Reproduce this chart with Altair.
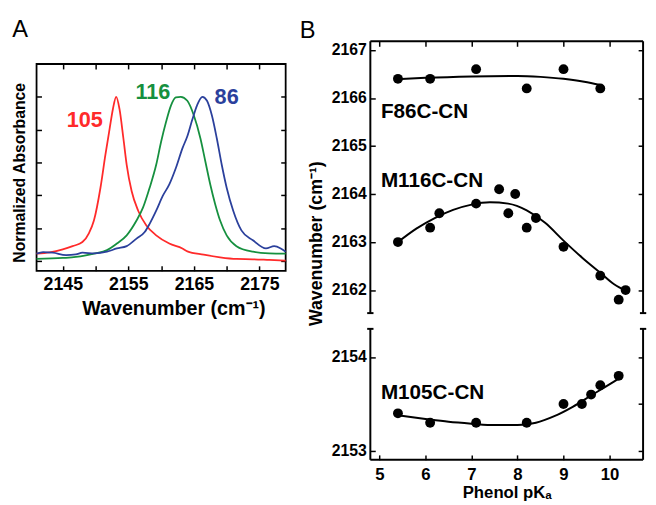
import altair as alt
import pandas as pd

FONT = "Liberation Sans"

# ---------------- Panel A: normalized IR spectra ----------------
wn_105 = [2141, 2143, 2145, 2146.5, 2148, 2149, 2149.75, 2150.75, 2151.5, 2152.15, 2152.65,
          2153.15, 2153.65, 2154.25, 2154.75, 2155.5, 2156.5, 2157.75, 2159.25, 2161.25,
          2163.25, 2164.0, 2166.5, 2169, 2171.5, 2174, 2176.5, 2179]
abs_105 = [0.044, 0.052, 0.07, 0.09, 0.115, 0.17, 0.246, 0.446, 0.646, 0.806, 0.926,
           1.0, 0.926, 0.746, 0.586, 0.426, 0.306, 0.216, 0.156, 0.106,
           0.076, 0.058, 0.038, 0.022, 0.012, 0.01, 0.006, 0.002]

wn_116 = [2141, 2145, 2147, 2148.5, 2149.75, 2151.75, 2153.25, 2154.75, 2156.25, 2157.25,
          2158.25, 2159.25, 2160.0, 2160.75, 2161.5, 2162.25, 2163.0, 2164.0, 2165.0,
          2166.0, 2166.75, 2167.5, 2168.25, 2169.0, 2170.0, 2171.5, 2174.0, 2176.5, 2179]
abs_116 = [0.012, 0.018, 0.024, 0.034, 0.045, 0.066, 0.106, 0.156, 0.246, 0.326,
           0.446, 0.586, 0.726, 0.846, 0.946, 0.996, 1.0, 0.976, 0.886,
           0.746, 0.606, 0.466, 0.346, 0.246, 0.156, 0.09, 0.056, 0.046, 0.044]

wn_86 = [2141, 2142, 2143.5, 2145.5, 2147, 2148, 2149.75, 2151.75, 2153.25, 2154.75,
         2156.25, 2157.5, 2158.25, 2159.25, 2160.25, 2161.25, 2162.25, 2163.25, 2164.0,
         2164.75, 2165.5, 2166.3, 2167.0, 2167.75, 2168.5, 2169.25, 2170.0, 2171.0,
         2172.25, 2174.0, 2176.0, 2177.25, 2178.25, 2179]
abs_86 = [0.044, 0.054, 0.05, 0.036, 0.04, 0.05, 0.046, 0.056, 0.076, 0.09,
          0.136, 0.176, 0.226, 0.306, 0.396, 0.466, 0.566, 0.686, 0.76,
          0.86, 0.95, 1.0, 0.976, 0.886, 0.746, 0.586, 0.446, 0.306,
          0.186, 0.126, 0.076, 0.09, 0.076, 0.056]

series_names = ["105", "116", "86"]
series_colors = ["#ff2a2a", "#16903f", "#2b409c"]
series_label_x = [2148.36, 2158.75, 2170.0]
series_label_y = [0.861, 1.026, 1.001]

a_xdomain = [2141, 2179]
a_ydomain = [-0.06, 1.2]
a_xticks = [2145, 2150, 2155, 2160, 2165, 2170, 2175]
a_yticks = [0, 0.2, 0.4, 0.6, 0.8, 1.0]

# ---------------- Panel B: frequency vs phenol pKa ----------------
f86_pka = [5.4, 6.1, 7.1, 8.2, 9.0, 9.8]
f86_wn = [2166.4, 2166.4, 2166.6, 2166.2, 2166.6, 2166.2]
m116_pka = [5.4, 6.1, 6.3, 7.1, 7.6, 7.8, 7.95, 8.2, 8.4, 9.0, 9.8, 10.2, 10.35]
m116_wn = [2163.0, 2163.3, 2163.6, 2163.8, 2164.1, 2163.6, 2164.0, 2163.3, 2163.5,
           2162.9, 2162.3, 2161.8, 2162.0]
m105_pka = [5.4, 6.1, 7.1, 8.2, 9.0, 9.4, 9.6, 9.8, 10.2]
m105_wn = [2153.4, 2153.3, 2153.3, 2153.3, 2153.5, 2153.5, 2153.6, 2153.7, 2153.8]

f86_fit_pka = [5.4, 6.0, 7.0, 8.0, 8.5, 9.0, 9.45, 9.8]
f86_fit_wn = [2166.39, 2166.42, 2166.45, 2166.46, 2166.44, 2166.40, 2166.34, 2166.27]
m116_fit_pka = [5.4, 5.8, 6.2, 6.6, 7.0, 7.4, 7.8, 8.2, 8.6, 9.0, 9.4, 9.8, 10.1, 10.37]
m116_fit_wn = [2163.0, 2163.28, 2163.5, 2163.67, 2163.78, 2163.83, 2163.8, 2163.66,
               2163.4, 2163.03, 2162.68, 2162.36, 2162.12, 2161.98]
m105_fit_pka = [5.4, 6.0, 6.5, 7.0, 7.5, 8.0, 8.4, 8.8, 9.2, 9.6, 9.9, 10.2]
m105_fit_wn = [2153.38, 2153.34, 2153.31, 2153.29, 2153.275, 2153.275, 2153.30,
               2153.37, 2153.47, 2153.59, 2153.68, 2153.77]

protein_names = ["F86C-CN", "M116C-CN", "M105C-CN"]
protein_label_pka = [5.03, 5.03, 5.03]
protein_label_wn = [2165.71, 2164.26, 2153.62]

b_xdomain = [4.8, 10.73]
b_upper_domain = [2161.52, 2167.18]
b_lower_domain = [2152.905, 2154.3]
b_xticks = [5, 6, 7, 8, 9, 10]
b_upper_ticks = [2162, 2163, 2164, 2165, 2166, 2167]
b_lower_ticks = [2153, 2153.5, 2154]

# ---------------- tables ----------------
spec_df = pd.concat([
    pd.DataFrame({"wn": wn_105, "absorb": abs_105, "series": "105"}),
    pd.DataFrame({"wn": wn_116, "absorb": abs_116, "series": "116"}),
    pd.DataFrame({"wn": wn_86, "absorb": abs_86, "series": "86"}),
], ignore_index=True)
speclab_df = pd.DataFrame({"x": series_label_x, "y": series_label_y, "series": series_names})
frameA_df = pd.DataFrame({"x0": [a_xdomain[0]], "x1": [a_xdomain[1]],
                          "y0": [a_ydomain[0]], "y1": [a_ydomain[1]]})

up_pts = pd.concat([
    pd.DataFrame({"pka": f86_pka, "wn": f86_wn, "p": "F86C-CN"}),
    pd.DataFrame({"pka": m116_pka, "wn": m116_wn, "p": "M116C-CN"}),
], ignore_index=True)
up_fit = pd.concat([
    pd.DataFrame({"pka": f86_fit_pka, "wn": f86_fit_wn, "p": "F86C-CN"}),
    pd.DataFrame({"pka": m116_fit_pka, "wn": m116_fit_wn, "p": "M116C-CN"}),
], ignore_index=True)
lo_pts = pd.DataFrame({"pka": m105_pka, "wn": m105_wn, "p": "M105C-CN"})
lo_fit = pd.DataFrame({"pka": m105_fit_pka, "wn": m105_fit_wn, "p": "M105C-CN"})
up_lab = pd.DataFrame({"pka": protein_label_pka[:2], "wn": protein_label_wn[:2], "t": protein_names[:2]})
lo_lab = pd.DataFrame({"pka": protein_label_pka[2:], "wn": protein_label_wn[2:], "t": protein_names[2:]})

AW, AH = 253, 210
BW, UH, LH = 277, 276, 133
cap = 3.2 * (b_xdomain[1] - b_xdomain[0]) / BW   # half-width of the axis-break caps
x0, x1 = b_xdomain
u0, u1 = b_upper_domain
l0, l1 = b_lower_domain
up_frame = pd.DataFrame({
    "x": [x0, x0, x1, x0 - cap, x1 - cap],
    "x2": [x0, x1, x1, x0 + cap, x1 + cap],
    "y": [u0, u1, u0, u0, u0],
    "y2": [u1, u1, u1, u0, u0],
})
lo_frame = pd.DataFrame({
    "x": [x0, x0, x1, x0 - cap, x1 - cap],
    "x2": [x0, x1, x1, x0 + cap, x1 + cap],
    "y": [l0, l0, l0, l1, l1],
    "y2": [l1, l0, l1, l1, l1],
})

# ---------------- helpers ----------------
def ax(orient, values, **kw):
    d = dict(offset=-5, tickSize=5, tickWidth=1.5, tickColor="black", domain=False,
             grid=False, labelOverlap=False, labelFlush=False, labelColor="black",
             labelFont=FONT, labelFontWeight="bold", titleFont=FONT,
             titleFontWeight="bold", titleColor="black")
    d.update(kw)
    return alt.Axis(orient=orient, values=values, **d)

xA = alt.Scale(domain=a_xdomain, nice=False, zero=False)
yA = alt.Scale(domain=a_ydomain, nice=False, zero=False)
colA = alt.Scale(domain=series_names, range=series_colors)

frameA = alt.Chart(frameA_df).mark_rect(fillOpacity=0, stroke="black", strokeWidth=1.8).encode(
    x=alt.X("x0:Q", scale=xA, axis=ax("top", a_xticks, labels=False, title=None)),
    x2="x1:Q",
    y=alt.Y("y0:Q", scale=yA, axis=ax("right", a_yticks, labels=False, title=None)),
    y2="y1:Q",
)
linesA = alt.Chart(spec_df).mark_line(strokeWidth=1.8, interpolate="monotone").encode(
    x=alt.X("wn:Q", scale=xA, axis=ax(
        "bottom", a_xticks, format="d",
        labelExpr="datum.value % 10 == 5 ? datum.label : ''",
        labelFontSize=18, labelPadding=5,
        title="Wavenumber (cm⁻¹)", titleFontSize=20, titlePadding=5, titleX=139)),
    y=alt.Y("absorb:Q", scale=yA, axis=ax(
        "left", a_yticks, labels=False,
        title="Normalized Absorbance", titleFontSize=16, titlePadding=8, titleY=110)),
    color=alt.Color("series:N", scale=colA, legend=None),
    detail="series:N",
)
textA = alt.Chart(speclab_df).mark_text(font=FONT, fontSize=22, fontWeight="bold",
                                        align="center", baseline="middle").encode(
    x=alt.X("x:Q", scale=xA, axis=None),
    y=alt.Y("y:Q", scale=yA, axis=None),
    text="series:N",
    color=alt.Color("series:N", scale=colA, legend=None),
)
panelA = alt.layer(frameA, linesA, textA).resolve_axis(x="independent", y="independent").properties(
    width=AW, height=AH,
    title=alt.TitleParams("A", anchor="start", offset=22, fontSize=24, font=FONT,
                          fontWeight="normal", color="black"),
)
# invisible spacer so panel A's plot sits lower than panel B's
spacer = alt.Chart(pd.DataFrame({"v": [0]})).mark_point(opacity=0).encode(
    x=alt.X("v:Q", axis=None), y=alt.Y("v:Q", axis=None),
).properties(width=AW, height=23)
colA_stack = alt.vconcat(spacer, panelA, spacing=0, bounds="flush")

xB = alt.Scale(domain=b_xdomain, nice=False, zero=False)
yU = alt.Scale(domain=b_upper_domain, nice=False, zero=False)
yL = alt.Scale(domain=b_lower_domain, nice=False, zero=False)

upFrame = alt.Chart(up_frame).mark_rule(color="black", strokeWidth=2).encode(
    x=alt.X("x:Q", scale=xB, axis=ax("top", b_xticks, labels=False, title=None)),
    x2="x2:Q",
    y=alt.Y("y:Q", scale=yU, axis=ax("right", b_upper_ticks, labels=False, title=None)),
    y2="y2:Q",
)
upPts = alt.Chart(up_pts).mark_circle(size=100, color="black", opacity=1).encode(
    x=alt.X("pka:Q", scale=xB, axis=None),
    y=alt.Y("wn:Q", scale=yU, axis=ax(
        "left", b_upper_ticks, format="d", labelFontSize=16, labelPadding=4,
        title="Wavenumber (cm⁻¹)", titleFontSize=18, titlePadding=6, titleY=205)),
)
upFit = alt.Chart(up_fit).mark_line(color="black", strokeWidth=2, interpolate="monotone").encode(
    x=alt.X("pka:Q", scale=xB, axis=None),
    y=alt.Y("wn:Q", scale=yU, axis=None),
    detail="p:N",
)
upText = alt.Chart(up_lab).mark_text(font=FONT, fontSize=21, fontWeight="bold", align="left",
                                     baseline="middle", color="black").encode(
    x=alt.X("pka:Q", scale=xB, axis=None),
    y=alt.Y("wn:Q", scale=yU, axis=None),
    text="t:N",
)
upper = alt.layer(upFrame, upFit, upPts, upText).resolve_axis(x="independent", y="independent").properties(
    width=BW, height=UH,
    title=alt.TitleParams("B", anchor="start", offset=-3, dx=-8, fontSize=24, font=FONT,
                          fontWeight="normal", color="black"),
)

loFrame = alt.Chart(lo_frame).mark_rule(color="black", strokeWidth=2).encode(
    x=alt.X("x:Q", scale=xB, axis=None),
    x2="x2:Q",
    y=alt.Y("y:Q", scale=yL, axis=ax("right", b_lower_ticks, labels=False, title=None)),
    y2="y2:Q",
)
loPts = alt.Chart(lo_pts).mark_circle(size=100, color="black", opacity=1).encode(
    x=alt.X("pka:Q", scale=xB, axis=ax(
        "bottom", b_xticks, format="d", labelFontSize=17, labelPadding=7,
        title="Phenol pKₐ", titleFontSize=17, titlePadding=2)),
    y=alt.Y("wn:Q", scale=yL, axis=ax(
        "left", b_lower_ticks, format="d", labelFontSize=16, labelPadding=4,
        labelExpr="datum.value % 1 == 0 ? datum.label : ''", title=None)),
)
loFit = alt.Chart(lo_fit).mark_line(color="black", strokeWidth=2, interpolate="monotone").encode(
    x=alt.X("pka:Q", scale=xB, axis=None),
    y=alt.Y("wn:Q", scale=yL, axis=None),
)
loText = alt.Chart(lo_lab).mark_text(font=FONT, fontSize=21, fontWeight="bold", align="left",
                                     baseline="middle", color="black").encode(
    x=alt.X("pka:Q", scale=xB, axis=None),
    y=alt.Y("wn:Q", scale=yL, axis=None),
    text="t:N",
)
lower = alt.layer(loFrame, loFit, loPts, loText).resolve_axis(x="independent", y="independent").properties(
    width=BW, height=LH,
)

panelB = alt.vconcat(upper, lower, spacing=16, bounds="flush")

chart = alt.hconcat(colA_stack, panelB, spacing=10, bounds="full").properties(
    padding={"left": 4, "top": 6, "right": 0, "bottom": 0},
    background="white",
).configure_view(strokeWidth=0)

chart.save("out.html", embed_options={"renderer": "svg", "actions": False})
